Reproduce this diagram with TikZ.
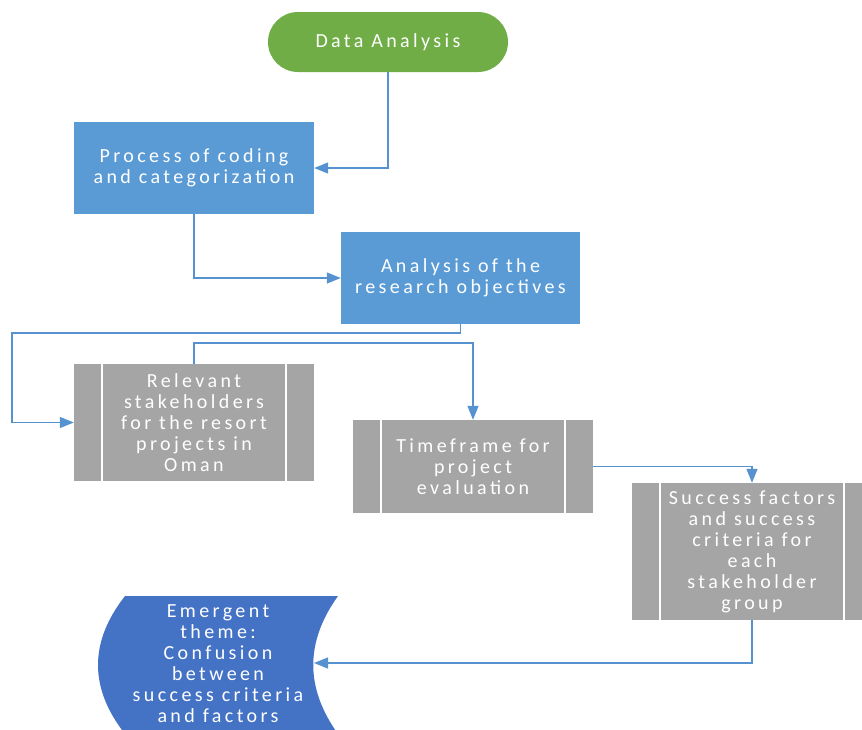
\documentclass[tikz,border=0pt]{standalone}
\usepackage{fontspec}
\setmainfont{Carlito}[LetterSpace=17]
\usetikzlibrary{arrows.meta}

\definecolor{termgreen}{HTML}{70AD47}
\definecolor{procblue}{HTML}{5B9BD5}
\definecolor{predgrey}{HTML}{A5A5A5}
\definecolor{storeblue}{HTML}{4472C4}
\definecolor{linkblue}{HTML}{5592CF}

\tikzset{
  boxtext/.style={text=white, align=center, inner sep=0pt,
    font=\fontsize{20}{21}\selectfont},
  terminal/.style={boxtext, fill=termgreen, rounded corners=30pt,
    minimum width=240pt, minimum height=60pt},
  process/.style={boxtext, fill=procblue,
    minimum width=240pt, minimum height=92pt},
  predef/.style={boxtext, fill=predgrey, minimum height=#1,
    minimum width=240pt,
    path picture={
      \draw[white, line width=1.5pt]
        ([xshift=28pt]path picture bounding box.north west) --
        ([xshift=28pt]path picture bounding box.south west);
      \draw[white, line width=1.5pt]
        ([xshift=-28pt]path picture bounding box.north east) --
        ([xshift=-28pt]path picture bounding box.south east);
    }},
  flow/.style={draw=linkblue, line width=1.3pt,
    -{Triangle[length=14pt, width=11pt, fill=linkblue]}},
}

\begin{document}
\begin{tikzpicture}[x=1pt, y=-1pt]
  \path[use as bounding box] (0,0) rectangle (862,729);
  \clip (0,0) rectangle (862,729);

  % flowchart steps
  \node[terminal] (data) at (388,42) {Data Analysis};
  \node[process] (coding) at (194,168) {Process of coding\\and categorization};
  \node[process, minimum width=239pt] (objectives) at (460.5,278)
    {Analysis of the\\research objectives};
  \node[predef=117pt] (stake) at (194,422.5)
    {Relevant\\stakeholders\\for the resort\\projects in\\Oman};
  \node[predef=93pt] (time) at (473,466.5)
    {Timeframe for\\project\\evaluation};
  \node[predef=137pt] (success) at (752,551.5)
    {Success factors\\and success\\criteria for\\each\\stakeholder\\group};

  % stored-data shape for the emergent theme
  \fill[storeblue] (125,596) -- (338,596)
    .. controls (305,642) and (305,688) .. (338,734)
    -- (125,734)
    .. controls (89,688) and (89,642) .. (125,596) -- cycle;
  \node[boxtext] (emergent) at (218,663.5)
    {Emergent\\theme:\\Confusion\\between\\success criteria\\and factors};

  % routing points
  \coordinate (leftbus) at (12,333);
  \coordinate (topbus) at (473,343);
  \coordinate (emergentedge) at (314,663);

  % connectors
  \draw[flow] (data.south) |- (coding.east);
  \draw[flow] (coding.south) |- (objectives.west);
  \draw[flow] (objectives.south) |- (leftbus) |- (stake.west);
  \draw[flow] (stake.north) |- (topbus) -- (time.north);
  \draw[flow] (time.east) -| (success.north);
  \draw[flow] (success.south) |- (emergentedge);
\end{tikzpicture}
\end{document}
